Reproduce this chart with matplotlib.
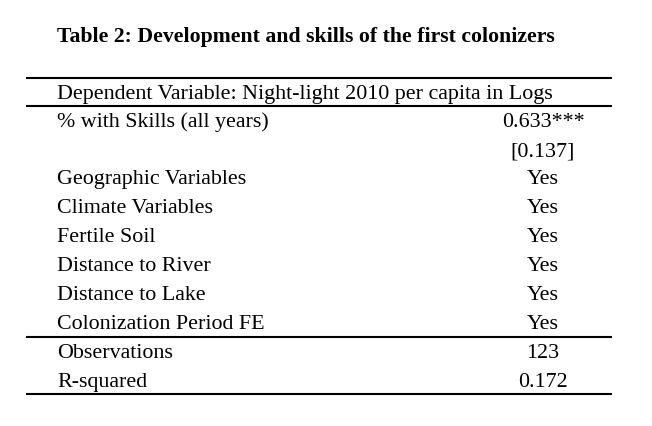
import matplotlib
matplotlib.use("Agg")
import matplotlib.pyplot as plt

title = "Table 2: Development and skills of the first colonizers"
header = "Dependent Variable: Night-light 2010 per capita in Logs"
row_labels = ["% with Skills (all years)", "", "Geographic Variables", "Climate Variables",
              "Fertile Soil", "Distance to River", "Distance to Lake",
              "Colonization Period FE", "Observations", "R-squared"]
row_values = ["0.633***", "[0.137]", "Yes", "Yes", "Yes", "Yes", "Yes", "Yes", "123", "0.172"]

W, H = 652, 426
fig = plt.figure(figsize=(W / 100, H / 100), dpi=100)
ax = fig.add_axes([0, 0, 1, 1])
ax.set_xlim(0, W)
ax.set_ylim(H, 0)
ax.axis("off")

font = ["Liberation Serif", "DejaVu Serif"]
fs = 15.8

ax.text(57, 42, title, fontsize=15.7, fontweight="bold", family=font, va="baseline", ha="left")

x0, x1 = 26, 612
for y in [78, 106, 337, 394]:
    ax.plot([x0, x1], [y, y], color="black", lw=1.5, solid_capstyle="butt")

ax.text(57, 99, header, fontsize=fs, family=font, va="baseline", ha="left")

ys = [127, 156, 184, 213, 242, 271, 300, 329, 358, 387]
for y, lab, val in zip(ys, row_labels, row_values):
    if lab:
        ax.text(57, y, lab, fontsize=fs, family=font, va="baseline", ha="left")
    ax.text(543, y, val, fontsize=fs, family=font, va="baseline", ha="center")

fig.savefig("out.png", dpi=100)
